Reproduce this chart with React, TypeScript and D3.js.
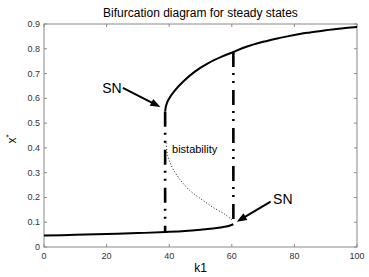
import React from "react";
import * as d3 from "d3";

// steady state branches (k1, x*)
const upperBranch: [number, number][] = [
  [38.7, 0.546], [39.0, 0.57], [39.7, 0.593], [41.9, 0.633], [45, 0.674],
  [48.2, 0.708], [52.5, 0.742], [56.8, 0.768], [60.5, 0.787], [64.2, 0.806],
  [70, 0.828], [75, 0.843], [80, 0.856], [85, 0.866], [90, 0.875],
  [95, 0.882], [100, 0.888],
];
const lowerBranch: [number, number][] = [
  [0, 0.046], [10, 0.049], [20, 0.052], [30, 0.056], [39, 0.061],
  [45, 0.065], [50, 0.07], [54, 0.075], [57, 0.08], [59, 0.085], [60.5, 0.092],
];
const unstableBranch: [number, number][] = [
  [39.0, 0.42], [39.5, 0.37], [41, 0.32], [43, 0.28], [46, 0.235],
  [50, 0.195], [54, 0.16], [58, 0.13], [60.5, 0.105],
];
// saddle-node jumps: k1, bottom, top
const jumps: [number, number, number][] = [
  [38.7, 0.061, 0.546],
  [60.5, 0.092, 0.787],
];
// arrows: label pos, arrow start, arrow tip
const annotations = [
  { text: "SN", label: [18.6, 0.62], from: [25.2, 0.642], to: [37.2, 0.565] },
  { text: "SN", label: [73.2, 0.172], from: [72.4, 0.183], to: [61.6, 0.102] },
];
const xTicks = [0, 20, 40, 60, 80, 100];
const yTicks = [0, 0.1, 0.2, 0.3, 0.4, 0.5, 0.6, 0.7, 0.8, 0.9];

const W = 369;
const H = 277;
const m = { top: 24, right: 12, bottom: 30, left: 44 };
const font = "'Liberation Sans', Arial, Helvetica, sans-serif";

const arrowHead = (x1: number, y1: number, x2: number, y2: number) => {
  const a = Math.atan2(y2 - y1, x2 - x1);
  const len = 10, half = 3.8;
  const bx = x2 - len * Math.cos(a), by = y2 - len * Math.sin(a);
  const px = -Math.sin(a) * half, py = Math.cos(a) * half;
  return `M${x2},${y2}L${bx + px},${by + py}L${bx - px},${by - py}Z`;
};

export default function App() {
  const x = d3.scaleLinear().domain([0, 100]).range([m.left, W - m.right]);
  const y = d3.scaleLinear().domain([0, 0.9]).range([H - m.bottom, m.top]);
  const line = d3
    .line<[number, number]>()
    .x((d) => x(d[0]))
    .y((d) => y(d[1]))
    .curve(d3.curveCatmullRom.alpha(0.5));

  const x0 = x(0), x1 = x(100), y0 = y(0), y1 = y(0.9);
  const axisCol = "#8a8a8a";

  return (
    <svg width={W} height={H} style={{ position: "absolute", left: 0, top: 0, background: "#fff" }}>
      {/* box + ticks */}
      <rect x={x0} y={y1} width={x1 - x0} height={y0 - y1} fill="none" stroke={axisCol} strokeWidth={1} />
      {xTicks.map((t) => (
        <g key={"x" + t}>
          <line x1={x(t)} x2={x(t)} y1={y0} y2={y0 - 3} stroke={axisCol} />
          <line x1={x(t)} x2={x(t)} y1={y1} y2={y1 + 3} stroke={axisCol} />
          <text x={x(t)} y={y0 + 12} textAnchor="middle" fontSize={9} fontFamily={font} fill="#333">
            {t}
          </text>
        </g>
      ))}
      {yTicks.map((t) => (
        <g key={"y" + t}>
          <line x1={x0} x2={x0 + 3} y1={y(t)} y2={y(t)} stroke={axisCol} />
          <line x1={x1} x2={x1 - 3} y1={y(t)} y2={y(t)} stroke={axisCol} />
          <text x={x0 - 4} y={y(t) + 3} textAnchor="end" fontSize={9} fontFamily={font} fill="#333">
            {t === 0 ? "0" : d3.format(".1f")(t)}
          </text>
        </g>
      ))}

      {/* branches */}
      <path d={line(lowerBranch) || ""} fill="none" stroke="#000" strokeWidth={2} />
      <path d={line(upperBranch) || ""} fill="none" stroke="#000" strokeWidth={2} />
      <path d={line(unstableBranch) || ""} fill="none" stroke="#000" strokeWidth={0.9} strokeDasharray="1 2" />

      {jumps.map(([k, lo, hi], i) => (
        <line key={"j" + i} x1={x(k)} x2={x(k)} y1={y(hi)} y2={y(lo)}
          stroke="#000" strokeWidth={2.6} strokeDasharray="15 6 2 6 2 7" />
      ))}

      {/* annotations */}
      {annotations.map((a, i) => {
        const fx = x(a.from[0]), fy = y(a.from[1]), tx = x(a.to[0]), ty = y(a.to[1]);
        const ang = Math.atan2(ty - fy, tx - fx);
        return (
          <g key={"a" + i}>
            <text x={x(a.label[0])} y={y(a.label[1])} fontSize={14} fontFamily={font}>{a.text}</text>
            <line x1={fx} y1={fy} x2={tx - 8 * Math.cos(ang)} y2={ty - 8 * Math.sin(ang)} stroke="#000" strokeWidth={2} />
            <path d={arrowHead(fx, fy, tx, ty)} fill="#000" />
          </g>
        );
      })}
      <text x={x(40.9)} y={y(0.379)} fontSize={11} fontFamily={font}>bistability</text>

      {/* titles */}
      <text x={(x0 + x1) / 2} y={17} textAnchor="middle" fontSize={12} fontFamily={font}>
        Bifurcation diagram for steady states
      </text>
      <text x={(x0 + x1) / 2} y={272} textAnchor="middle" fontSize={12} fontFamily={font}>k1</text>
      <text transform={`translate(16,${(y0 + y1) / 2 + 8}) rotate(-90)`} fontSize={12} fontFamily={font}>
        x<tspan dy={-5} fontSize={8}>*</tspan>
      </text>
    </svg>
  );
}
